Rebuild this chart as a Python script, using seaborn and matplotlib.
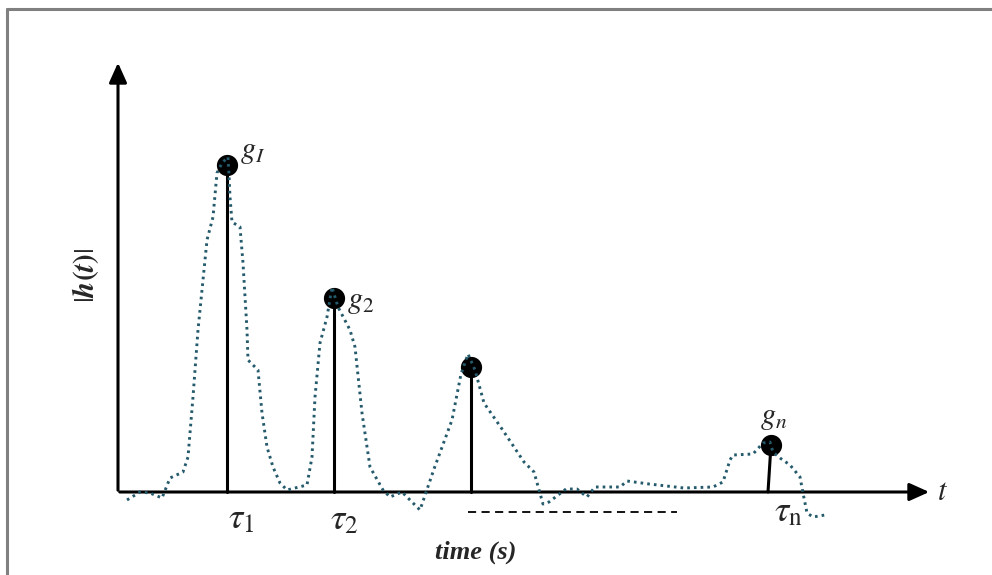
import matplotlib
matplotlib.use("Agg")
import matplotlib.pyplot as plt
import seaborn as sns
import numpy as np

sns.set_theme(style="white")
plt.rcParams['mathtext.fontset'] = 'stix'
plt.rcParams['font.family'] = ['Liberation Serif', 'DejaVu Serif']

# --- data (arbitrary time units / amplitude units) ---
curve_t = [0.09, 0.22, 0.32, 0.44, 0.52, 0.65, 0.70, 0.75, 0.80, 0.89, 0.95, 0.99, 1.04, 1.10,
           1.11, 1.12, 1.14, 1.22, 1.25, 1.29, 1.30, 1.40, 1.44, 1.49, 1.55, 1.62, 1.69,
           1.89, 1.94, 1.97, 2.02, 2.09, 2.14, 2.20, 2.32, 2.37, 2.44, 2.52, 2.65, 2.72,
           2.84, 2.95, 3.02, 3.16, 3.34, 3.43, 3.50, 3.57, 3.66, 3.84, 4.06, 4.16, 4.25,
           4.31, 4.48, 4.59, 4.69, 4.77, 5.02, 5.09, 5.31, 5.66, 5.95, 6.05, 6.12, 6.15,
           6.35, 6.45, 6.52, 6.55, 6.62, 6.72, 6.82, 6.85, 6.89, 6.95, 7.07]
curve_h = [-0.08, 0.00, -0.01, -0.06, 0.14, 0.20, 0.35, 0.95, 1.62, 2.52, 2.75, 3.19, 3.29, 3.35,
           3.17, 2.95, 2.70, 2.65, 2.29, 1.62, 1.32, 1.22, 0.79, 0.45, 0.25, 0.09, 0.02,
           0.07, 0.35, 0.95, 1.49, 1.75, 2.05, 1.85, 1.62, 1.45, 0.79, 0.25, 0.02, -0.05,
           0.00, -0.11, -0.18, 0.23, 0.72, 1.18, 1.38, 1.22, 0.89, 0.63, 0.30, 0.20, -0.12,
           -0.10, 0.03, 0.03, -0.05, 0.05, 0.05, 0.11, 0.08, 0.04, 0.05, 0.10, 0.32, 0.37,
           0.38, 0.49, 0.50, 0.40, 0.34, 0.27, 0.15, -0.01, -0.21, -0.25, -0.23]

tau = [1.09, 2.16, 3.53, 6.50]          # stem base positions
dot_t = [1.09, 2.16, 3.53, 6.53]        # dot positions
gains = [3.27, 1.94, 1.25, 0.47]
tau_labels = [r'$\tau_1$', r'$\tau_2$', '', r'$\tau_{\mathrm{n}}$']
gain_labels = [r'$g_{I}$', r'$g_2$', '', r'$g_n$']

fig = plt.figure(figsize=(9.92, 5.75), dpi=100)
ax = fig.add_axes([0, 0, 1, 1])
ax.set_xlim(-1.18, 8.74)
ax.set_ylim(-0.83, 4.92)
ax.axis('off')

# frame (top & left)
ax.plot([-1.11, 8.74], [4.83, 4.83], color='#808080', lw=2.2, clip_on=False)
ax.plot([-1.11, -1.11], [-0.83, 4.83], color='#808080', lw=2.2, clip_on=False)

# axes arrows
ax.annotate('', xy=(8.14, 0), xytext=(-0.01, 0),
            arrowprops=dict(arrowstyle='-|>,head_length=1.0,head_width=0.45', color='black', lw=2.2))
ax.annotate('', xy=(0, 4.32), xytext=(0, -0.01),
            arrowprops=dict(arrowstyle='-|>,head_length=1.0,head_width=0.45', color='black', lw=2.2))

# stems
for tb, tt, g in zip(tau, dot_t, gains):
    ax.plot([tb, tt], [0, g], color='black', lw=2.2, zorder=3)
sns.scatterplot(x=dot_t, y=gains, color='black', s=200, edgecolor='black', zorder=4, ax=ax, legend=False)

# dotted curve
sns.lineplot(x=curve_t, y=curve_h, sort=False, estimator=None, color='#245a6b',
             lw=2.1, linestyle=(0, (0.9, 1.4)), ax=ax, zorder=5)

# labels
offs_g = [(0.13, 0.14), (0.13, -0.04), (0, 0), (0.03, 0.27)]
for t, g, lab, (dx, dy) in zip(dot_t, gains, gain_labels, offs_g):
    if lab:
        ax.text(t + dx, g + dy, lab, fontsize=22, ha='left' if dx > 0.05 else 'center',
                va='center')
offs_tau = [(0.14, -0.28), (0.10, -0.29), (0, 0), (0.20, -0.21)]
for t, lab, (dx, dy) in zip(tau, tau_labels, offs_tau):
    if lab:
        ax.text(t + dx, dy, lab, fontsize=26, ha='center', va='center')

ax.text(8.25, -0.01, r'$t$', fontsize=22, ha='center', va='center')
ax.plot([3.50, 5.59], [-0.20, -0.20], color='black', lw=1.3, linestyle=(0, (4.5, 3.0)))

ax.text(-0.32, 2.17, r'$|\boldsymbol{h(t)}|$', fontsize=21, rotation=90, ha='center', va='center')
ax.text(3.58, -0.60, 'time (s)', fontsize=19, fontweight='bold', fontstyle='italic',
        ha='center', va='center')

fig.savefig('out.png', dpi=100)
